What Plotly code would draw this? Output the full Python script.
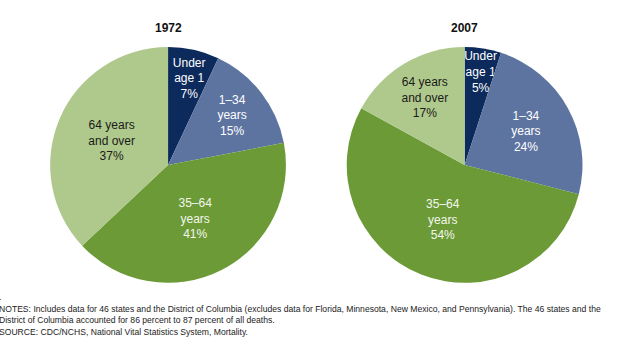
import plotly.graph_objects as go

categories = ["Under<br>age 1", "1–34<br>years", "35–64<br>years", "64 years<br>and over"]
years = ["1972", "2007"]
values_1972 = [7, 15, 41, 37]
values_2007 = [5, 24, 54, 17]
notes = [
    ".",
    "NOTES: Includes data for 46 states and the District of Columbia (excludes data for Florida, Minnesota, New Mexico, and Pennsylvania). The 46 states and the",
    "District of Columbia accounted for 86 percent to 87 percent of all deaths.",
    "SOURCE: CDC/NCHS, National Vital Statistics System, Mortality.",
]

colors = ["#0c2a5b", "#5d74a1", "#6b9a36", "#afc98c"]
text_colors = ["#ffffff", "#ffffff", "#f4f7ee", "#1a1a1a"]
FONT = "Liberation Sans, Arial, sans-serif"
# small first slice: pad with an empty top line so the label sits lower in the wedge
templates = [" <br>%{label}<br>%{value}%"] + ["%{label}<br>%{value}%"] * 3

fig = go.Figure()
domains = [[0.08, 0.456], [0.553, 0.929]]
for i, (yr, vals) in enumerate(zip(years, [values_1972, values_2007])):
    fig.add_trace(go.Pie(
        labels=categories,
        values=vals,
        sort=False,
        direction="clockwise",
        rotation=0,
        marker=dict(colors=colors, line=dict(width=0)),
        texttemplate=templates,
        textposition="inside",
        insidetextorientation="horizontal",
        textfont=dict(family=FONT, size=12, color=text_colors),
        hoverinfo="label+value",
        showlegend=False,
        domain=dict(x=domains[i], y=[0.16, 0.861]),
    ))
    fig.add_annotation(
        text="<b>" + yr + "</b>", xref="paper", yref="paper",
        x=sum(domains[i]) / 2, y=1 - 28 / 337, xanchor="center", yanchor="middle",
        showarrow=False, font=dict(family=FONT, size=12, color="#111111"),
    )

for j, line in enumerate(notes):
    fig.add_annotation(
        text=line, xref="paper", yref="paper", x=0, y=1 - (297 + j * 11.5) / 337,
        xanchor="left", yanchor="middle", xshift=-3, showarrow=False,
        font=dict(family=FONT, size=8.6, color="#222222"), align="left",
    )

fig.update_layout(
    width=627, height=337,
    margin=dict(l=0, r=0, t=0, b=0),
    paper_bgcolor="white", plot_bgcolor="white",
    uniformtext=dict(minsize=12, mode="show"),
)
fig.write_html("out.html")
